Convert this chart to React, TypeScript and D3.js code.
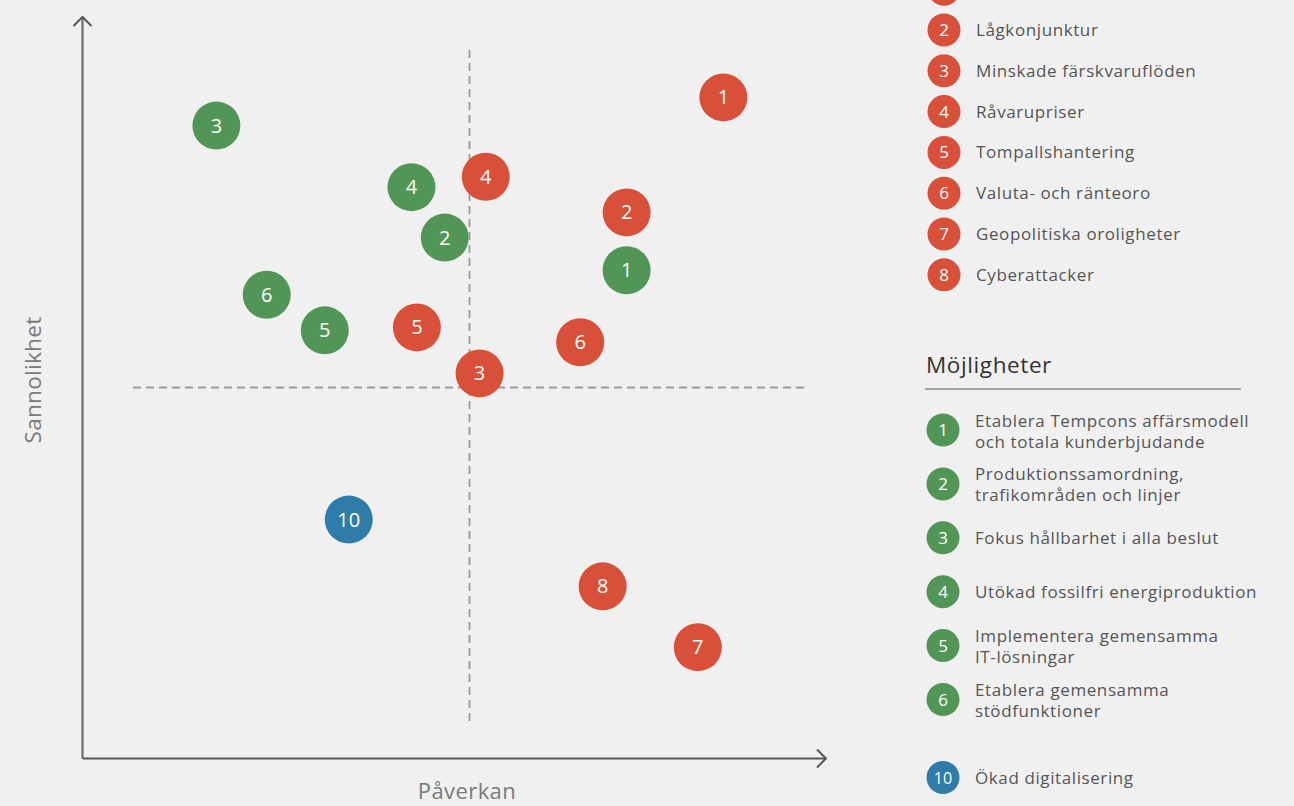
import React from "react";
import * as d3 from "d3";

// ---- Data ----
const riskIds = [1, 2, 3, 4, 5, 6, 7, 8];
const riskLabels = [
  "",
  "Lågkonjunktur",
  "Minskade färskvaruflöden",
  "Råvarupriser",
  "Tompallshantering",
  "Valuta- och ränteoro",
  "Geopolitiska oroligheter",
  "Cyberattacker",
];
const riskImpact = [8.28, 7.03, 5.13, 5.21, 4.32, 6.43, 7.95, 6.72];
const riskLikelihood = [8.91, 7.36, 5.19, 7.84, 5.81, 5.61, 1.5, 2.32];

const oppIds = [1, 2, 3, 4, 5, 6];
const oppLabels = [
  ["Etablera Tempcons affärsmodell", "och totala kunderbjudande"],
  ["Produktionssamordning,", "trafikområden och linjer"],
  ["Fokus hållbarhet i alla beslut"],
  ["Utökad fossilfri energiproduktion"],
  ["Implementera gemensamma", "IT-lösningar"],
  ["Etablera gemensamma", "stödfunktioner"],
];
const oppImpact = [7.03, 4.68, 1.73, 4.25, 3.13, 2.38];
const oppLikelihood = [6.58, 7.02, 8.53, 7.7, 5.77, 6.25];

const bothIds = [10];
const bothLabels = ["Ökad digitalisering"];
const bothImpact = [3.44];
const bothLikelihood = [3.22];

const xTitle = "Påverkan";
const yTitle = "Sannolikhet";
const oppTitle = "Möjligheter";

// ---- Styles ----
const W = 1294;
const H = 806;
const RED = "#d9503a";
const GREEN = "#529657";
const BLUE = "#2f7ca8";
const FONT = "'Open Sans', 'Noto Sans', sans-serif";
const LEG_FS = 17;
const LEG_LS = 0.6;

export default function App() {
  const x = d3.scaleLinear().domain([0, 10]).range([82.5, 856.5]);
  const y = d3.scaleLinear().domain([0, 10]).range([758.5, 16.5]);
  const mid = 5;
  const R = 24;

  const points = [
    ...riskIds.map((id, i) => ({ id, cx: riskImpact[i], cy: riskLikelihood[i], c: RED })),
    ...oppIds.map((id, i) => ({ id, cx: oppImpact[i], cy: oppLikelihood[i], c: GREEN })),
    ...bothIds.map((id, i) => ({ id, cx: bothImpact[i], cy: bothLikelihood[i], c: BLUE })),
  ];

  const axisX0 = x(0);
  const axisY0 = y(0);
  const xEnd = 826;
  const yEnd = 17;

  const legX = 944;
  const legTextX = 976;
  const LR = 16.5;

  const oppRowY = (i: number) => 430 + i * 53.9;

  return (
    <svg
      width={W}
      height={H}
      style={{ position: "absolute", left: 0, top: 0, background: "#f0f0f0", fontFamily: FONT }}
    >
      <rect x={0} y={0} width={W} height={H} fill="#f0f0f0" />
      {/* quadrant dashed lines */}
      <line x1={x(mid)} x2={x(mid)} y1={50} y2={725} stroke="#9a9a9a" strokeWidth={1.8} strokeDasharray="8 5" />
      <line x1={133} x2={806} y1={y(mid)} y2={y(mid)} stroke="#9a9a9a" strokeWidth={1.8} strokeDasharray="8 5" />

      {/* axes */}
      <line x1={axisX0} x2={axisX0} y1={axisY0} y2={yEnd} stroke="#6e6e6e" strokeWidth={2.2} />
      <polyline
        points={`${axisX0 - 9},${yEnd + 9} ${axisX0},${yEnd} ${axisX0 + 9},${yEnd + 9}`}
        fill="none"
        stroke="#555"
        strokeWidth={2}
      />
      <line x1={axisX0} x2={xEnd} y1={axisY0} y2={axisY0} stroke="#555" strokeWidth={2.2} />
      <polyline
        points={`${xEnd - 9},${axisY0 - 9} ${xEnd},${axisY0} ${xEnd - 9},${axisY0 + 9}`}
        fill="none"
        stroke="#555"
        strokeWidth={2}
      />
      <text x={467} y={799} textAnchor="middle" fontSize={22} fill="#7a7a7a" letterSpacing={0.4}>
        {xTitle}
      </text>
      <text
        transform={`translate(41,${380}) rotate(-90)`}
        textAnchor="middle"
        fontSize={22.5}
        fill="#7a7a7a"
        letterSpacing={0.3}
      >
        {yTitle}
      </text>

      {/* points */}
      {points.map((p, i) => (
        <g key={i} transform={`translate(${x(p.cx)},${y(p.cy)})`}>
          <circle r={R} fill={p.c} />
          <text textAnchor="middle" dy={7} fontSize={20} fill="#fff">
            {p.id}
          </text>
        </g>
      ))}

      {/* risk legend */}
      {riskIds.map((id, i) => {
        const cy = 30 + (i - 1) * 40.8;
        const visible = cy > 0;
        return (
          <g key={"r" + id}>
            <circle cx={legX} cy={cy} r={LR} fill={RED} />
            {visible && (
              <text x={legX} y={cy + 6} textAnchor="middle" fontSize={17} fill="#fff">
                {id}
              </text>
            )}
            {visible && riskLabels[i] && (
              <text x={legTextX} y={cy + 6} fontSize={LEG_FS} letterSpacing={LEG_LS} fill="#555">
                {riskLabels[i]}
              </text>
            )}
          </g>
        );
      })}

      {/* opportunities legend */}
      <text x={926} y={373} fontSize={22.5} letterSpacing={0.6} fill="#333">
        {oppTitle}
      </text>
      <line x1={925} x2={1241} y1={389} y2={389} stroke="#8a8a8a" strokeWidth={1.5} />
      {oppIds.map((id, i) => {
        const cy = oppRowY(i);
        const lines = oppLabels[i];
        return (
          <g key={"o" + id}>
            <circle cx={legX - 1} cy={cy} r={LR} fill={GREEN} />
            <text x={legX - 1} y={cy + 6} textAnchor="middle" fontSize={17} fill="#fff">
              {id}
            </text>
            {lines.length === 1 ? (
              <text x={legTextX - 1} y={cy + 6} fontSize={LEG_FS} letterSpacing={LEG_LS} fill="#555">
                {lines[0]}
              </text>
            ) : (
              lines.map((l, j) => (
                <text
                  key={j}
                  x={legTextX - 1}
                  y={cy - 3.5 + j * 21}
                  fontSize={LEG_FS}
                  letterSpacing={LEG_LS}
                  fill="#555"
                >
                  {l}
                </text>
              ))
            )}
          </g>
        );
      })}
      {bothIds.map((id, i) => {
        const cy = 777.5;
        return (
          <g key={"b" + id}>
            <circle cx={legX - 1} cy={cy} r={LR} fill={BLUE} />
            <text x={legX - 1} y={cy + 6} textAnchor="middle" fontSize={16} fill="#fff">
              {id}
            </text>
            <text x={legTextX - 1} y={cy + 6} fontSize={LEG_FS} letterSpacing={LEG_LS} fill="#555">
              {bothLabels[i]}
            </text>
          </g>
        );
      })}
    </svg>
  );
}
